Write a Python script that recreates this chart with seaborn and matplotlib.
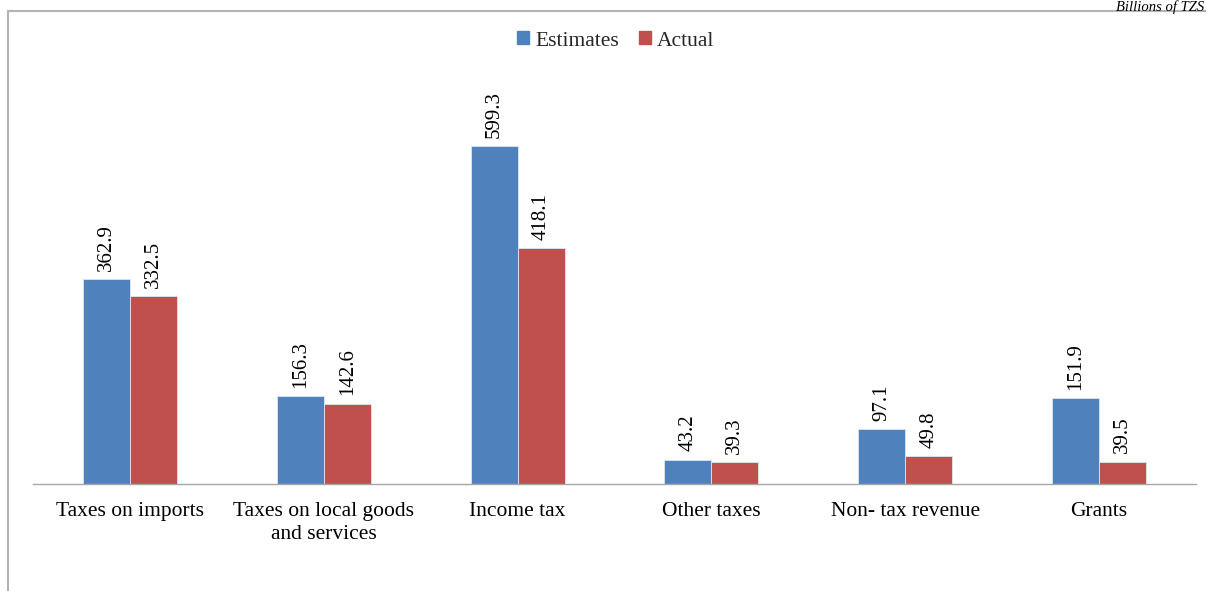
import matplotlib
matplotlib.use("Agg")
import matplotlib.pyplot as plt
from matplotlib.patches import Rectangle
import seaborn as sns
import pandas as pd
import numpy as np

categories = ["Taxes on imports", "Taxes on local goods\nand services", "Income tax",
              "Other taxes", "Non- tax revenue", "Grants"]
estimates = [362.9, 156.3, 599.3, 43.2, 97.1, 151.9]
actual = [332.5, 142.6, 418.1, 39.3, 49.8, 39.5]
series_names = ["Estimates", "Actual"]

df = pd.DataFrame({
    "category": categories * 2,
    "series": [series_names[0]] * len(categories) + [series_names[1]] * len(categories),
    "value": estimates + actual,
})

sns.set_theme(style="white")
plt.rcParams["font.family"] = ["Liberation Serif", "DejaVu Serif"]

W, H = 1206, 591
fig = plt.figure(figsize=(W / 100, H / 100), dpi=100)

# plot area in pixel terms: baseline at y=484, spans x=33..1196
px_per_unit = 338 / 599.3
ax_top_px, ax_bot_px = 20, 484
ax = fig.add_axes([33 / W, (H - ax_bot_px) / H, 1163 / W, (ax_bot_px - ax_top_px) / H])

palette = {"Estimates": "#4F81BD", "Actual": "#C0504D"}
sns.barplot(data=df, x="category", y="value", hue="series", order=categories,
            hue_order=series_names, palette=palette, width=0.485, gap=0,
            saturation=1, linewidth=0.6, edgecolor="#dfe6ef", ax=ax, legend=False)

ax.set_xlim(-0.5, len(categories) - 0.5)
ax.set_ylim(0, (ax_bot_px - ax_top_px) / px_per_unit)

# value labels above each bar, rotated
for container in ax.containers:
    ax.bar_label(container, labels=[f"{v:.1f}" for v in container.datavalues],
                 rotation=90, padding=6, fontsize=15, color="black")

# boundaries between categories carry the ticks
ax.set_xticks(np.arange(-0.5, len(categories), 1.0))
ax.set_xticklabels([])
ax.set_xticks(np.arange(len(categories)), minor=True)
ax.set_xticklabels(categories, minor=True, fontsize=15.5, linespacing=1.3)
ax.tick_params(axis="x", which="major", length=7, width=1, color="#a6a6a6", direction="out")
ax.tick_params(axis="x", which="minor", length=0, pad=13, labelcolor="black")
for lbl in ax.get_xticklabels(minor=True):
    lbl.set_verticalalignment("top")
ax.set_yticks([])
ax.set_xlabel("")
ax.set_ylabel("")
for side in ["left", "right", "top"]:
    ax.spines[side].set_visible(False)
ax.spines["bottom"].set_color("#a6a6a6")
ax.spines["bottom"].set_linewidth(1)
ax.patch.set_alpha(0)

# legend at the top center
handles = [Rectangle((0, 0), 1, 1, color=palette[s]) for s in series_names]
fig.legend(handles, series_names, loc="center", bbox_to_anchor=(616 / W, (H - 41) / H),
           ncol=2, frameon=False, fontsize=15.5, handlelength=0.55, handleheight=0.55,
           handletextpad=0.3, columnspacing=0.9)

# chart frame, open to the right and bottom edges
frame = Rectangle((8 / W, -0.05), 1.1, (H - 11) / H + 0.05, transform=fig.transFigure,
                  fill=False, edgecolor="#b3b3b3", linewidth=1.5, zorder=0)
fig.add_artist(frame)

fig.text((W - 2) / W, (H - 0.5) / H, "Billions of TZS", ha="right", va="top",
         fontsize=10.5, style="italic", color="black")

fig.savefig("out.png", dpi=100, facecolor="white")
